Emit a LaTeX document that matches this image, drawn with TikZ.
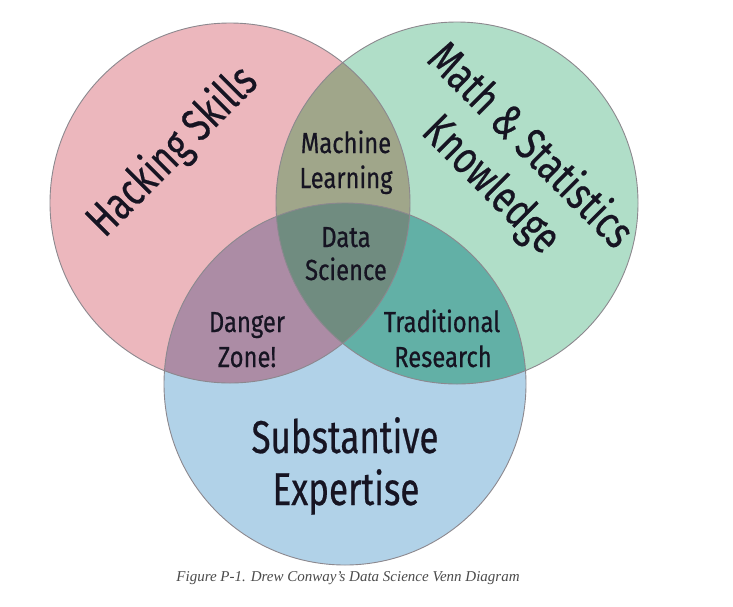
\documentclass[tikz,border=0pt]{standalone}
\usepackage{fontspec}
\setmainfont{Liberation Serif}
\newfontfamily\vennbig[FakeStretch=0.76,FakeBold=0.5]{Fira Sans}
\newfontfamily\vennsmall[FakeStretch=0.82,FakeBold=0.5]{Fira Sans}
\definecolor{cR}{RGB}{236,183,189}
\definecolor{cG}{RGB}{176,222,200}
\definecolor{cB}{RGB}{177,210,232}
\definecolor{cRG}{RGB}{160,166,138}
\definecolor{cRB}{RGB}{172,140,165}
\definecolor{cGB}{RGB}{98,176,166}
\definecolor{cRGB}{RGB}{112,140,128}
\definecolor{cEdge}{RGB}{140,136,142}
\definecolor{cText}{RGB}{22,20,34}
\definecolor{cCap}{RGB}{75,75,75}
\tikzset{
  small/.style={text=cText, font=\vennsmall\fontsize{29}{34}\selectfont, anchor=base, inner sep=0pt},
  big/.style={text=cText, font=\vennbig\fontsize{46}{55}\selectfont, inner sep=0pt, align=center},
  edge/.style={draw=cEdge, line width=0.9pt},
  caption/.style={text=cCap, font=\itshape\fontsize{15}{17}\selectfont, anchor=base, inner sep=0pt}
}
\begin{document}
\begin{tikzpicture}[x=1pt,y=-1pt]
\useasboundingbox (0,0) rectangle (733,606);
\fill[white] (0,0) rectangle (733,606);
\coordinate (cr) at (230,203);
\coordinate (cg) at (457,203);
\coordinate (cb) at (345,384);
% base fills
\fill[cR] (cr) circle[radius=180pt];
\fill[cG] (cg) circle[radius=181pt];
\fill[cB] (cb) circle[radius=181pt];
% pairwise overlaps
\begin{scope}
  \clip (cr) circle[radius=180pt];
  \fill[cRG] (cg) circle[radius=181pt];
  \fill[cRB] (cb) circle[radius=181pt];
\end{scope}
\begin{scope}
  \clip (cg) circle[radius=181pt];
  \fill[cGB] (cb) circle[radius=181pt];
\end{scope}
\begin{scope}
  \clip (cr) circle[radius=180pt];
  \clip (cg) circle[radius=181pt];
  \fill[cRGB] (cb) circle[radius=181pt];
\end{scope}
% outlines
\draw[edge] (cr) circle[radius=180pt];
\draw[edge] (cg) circle[radius=181pt];
\draw[edge] (cb) circle[radius=181pt];
% labels
\node[big, rotate=45] (hack) at (173,152) {Hacking Skills};
\node[big, rotate=-45] (math) at (510,166) {Math \& Statistics\\Knowledge};
\node[big, anchor=base] (sub1) at (345,453) {Substantive};
\node[big, anchor=base] (sub2) at (346,505) {Expertise};
\node[small] (ml1) at (346,153) {Machine};
\node[small] (ml2) at (346,188) {Learning};
\node[small] (ds1) at (346,247) {Data};
\node[small] (ds2) at (346,280) {Science};
\node[small] (dz1) at (247,332) {Danger};
\node[small] (dz2) at (247,367) {Zone!};
\node[small] (tr1) at (442,332) {Traditional};
\node[small] (tr2) at (443,367) {Research};
\node[caption] (cap) at (348,581) {Figure P-1. Drew Conway’s Data Science Venn Diagram};
\end{tikzpicture}
\end{document}
